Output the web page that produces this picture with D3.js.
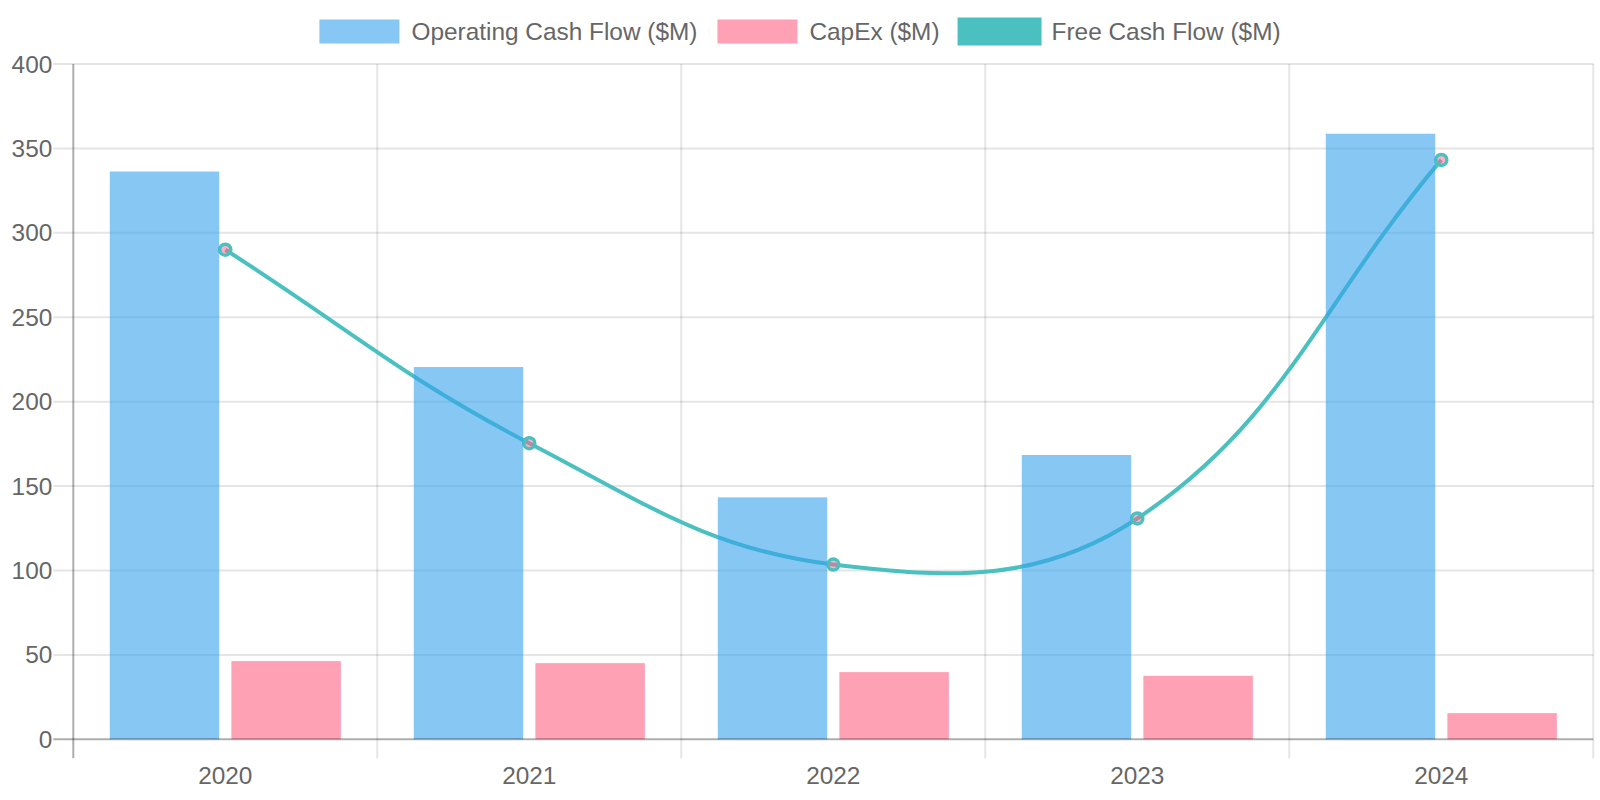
<!DOCTYPE html>
<html>
<head>
<meta charset="utf-8">
<script src="https://cdn.jsdelivr.net/npm/d3@7"></script>
<style>
  html, body { margin: 0; padding: 0; background: #ffffff; }
  svg { display: block; }
  text { font-family: "Liberation Sans", Arial, Helvetica, sans-serif; }
</style>
</head>
<body>
<svg id="chart" width="1600" height="800"></svg>
<script>
// ---- data ----
const years = ["2020", "2021", "2022", "2023", "2024"];
const operatingCashFlow = [336.3, 220.5, 143.3, 168.4, 358.7];
const capEx = [46.3, 45.1, 39.8, 37.6, 15.5];
const freeCashFlow = [290.0, 175.4, 103.5, 130.8, 343.2];
const seriesNames = ["Operating Cash Flow ($M)", "CapEx ($M)", "Free Cash Flow ($M)"];
const yTicks = [0, 50, 100, 150, 200, 250, 300, 350, 400];

// ---- layout ----
const W = 1600, H = 800;
const plotLeft = 73.3, plotRight = 1593.3, plotTop = 64, plotBottom = 739.3;
const fontSize = 24.4;
const svg = d3.select("#chart");

const x = d3.scaleBand().domain(years).range([plotLeft, plotRight]).paddingInner(0).paddingOuter(0);
const bw = x.bandwidth();
const x1 = d3.scaleBand().domain(["ocf", "capex"]).range([0.1 * bw, 0.9 * bw])
  .paddingInner(0.1).paddingOuter(0.05);
const y = d3.scaleLinear().domain([0, 400]).range([plotBottom, plotTop]);

const gridColor = "rgba(0,0,0,0.1)";
const axisColor = "rgba(0,0,0,0.32)";
const textColor = "#666666";

// horizontal gridlines (with tick extensions)
svg.append("g").selectAll("line").data(yTicks.filter(d => d !== 0)).join("line")
  .attr("x1", plotLeft - 20).attr("x2", plotRight)
  .attr("y1", d => y(d)).attr("y2", d => y(d))
  .attr("stroke", gridColor).attr("stroke-width", 2);

// vertical gridlines at category boundaries
const bounds = years.map(d => x(d)).concat([plotRight]);
svg.append("g").selectAll("line").data(bounds.slice(1)).join("line")
  .attr("x1", d => d).attr("x2", d => d)
  .attr("y1", plotTop).attr("y2", plotBottom + 19)
  .attr("stroke", gridColor).attr("stroke-width", 2);

// y labels
svg.append("g").selectAll("text").data(yTicks).join("text")
  .attr("x", plotLeft - 21).attr("y", d => y(d) + 8.6)
  .attr("text-anchor", "end").attr("font-size", fontSize).attr("fill", textColor)
  .text(d => d);

// x labels
svg.append("g").selectAll("text").data(years).join("text")
  .attr("x", d => x(d) + bw / 2).attr("y", 783.5)
  .attr("text-anchor", "middle").attr("font-size", fontSize).attr("fill", textColor)
  .text(d => d);

// ---- line (Chart.js-like spline, tension 0.4) ----
const pts = years.map((d, i) => ({ x: x(d) + bw / 2, y: y(freeCashFlow[i]) }));
const tension = 0.4;
pts.forEach((p, i) => {
  const prev = pts[i - 1] || p, next = pts[i + 1] || p;
  const d01 = Math.hypot(p.x - prev.x, p.y - prev.y);
  const d12 = Math.hypot(next.x - p.x, next.y - p.y);
  let s01 = d01 / (d01 + d12), s12 = d12 / (d01 + d12);
  if (isNaN(s01)) s01 = 0; if (isNaN(s12)) s12 = 0;
  const fa = tension * s01, fb = tension * s12;
  p.cpPrev = { x: p.x - fa * (next.x - prev.x), y: p.y - fa * (next.y - prev.y) };
  p.cpNext = { x: p.x + fb * (next.x - prev.x), y: p.y + fb * (next.y - prev.y) };
  [p.cpPrev, p.cpNext].forEach(c => {
    c.x = Math.max(plotLeft, Math.min(plotRight, c.x));
    c.y = Math.max(plotTop, Math.min(plotBottom, c.y));
  });
});
const path = d3.path();
path.moveTo(pts[0].x, pts[0].y);
for (let i = 1; i < pts.length; i++) {
  path.bezierCurveTo(pts[i - 1].cpNext.x, pts[i - 1].cpNext.y, pts[i].cpPrev.x, pts[i].cpPrev.y, pts[i].x, pts[i].y);
}
svg.append("path").attr("d", path.toString())
  .attr("fill", "none").attr("stroke", "rgb(75,192,192)").attr("stroke-width", 4);

svg.append("g").selectAll("circle").data(pts).join("circle")
  .attr("cx", d => d.x).attr("cy", d => d.y).attr("r", 5.5)
  .attr("fill", "rgba(255,99,132,0.5)").attr("stroke", "rgb(75,192,192)").attr("stroke-width", 3.5);

// ---- bars (drawn over line, like Chart.js dataset order) ----
svg.append("g").selectAll("rect").data(years).join("rect")
  .attr("x", d => x(d) + x1("capex")).attr("width", x1.bandwidth())
  .attr("y", (d, i) => y(capEx[i])).attr("height", (d, i) => y(0) - y(capEx[i]))
  .attr("fill", "rgba(255,99,132,0.6)");
svg.append("g").selectAll("rect").data(years).join("rect")
  .attr("x", d => x(d) + x1("ocf")).attr("width", x1.bandwidth())
  .attr("y", (d, i) => y(operatingCashFlow[i])).attr("height", (d, i) => y(0) - y(operatingCashFlow[i]))
  .attr("fill", "rgba(54,162,235,0.6)");

// axes lines
svg.append("line").attr("x1", plotLeft - 20).attr("x2", plotRight).attr("y1", y(0)).attr("y2", y(0))
  .attr("stroke", axisColor).attr("stroke-width", 2);
svg.append("line").attr("x1", plotLeft).attr("x2", plotLeft).attr("y1", plotTop).attr("y2", plotBottom + 19)
  .attr("stroke", axisColor).attr("stroke-width", 2);

// ---- legend ----
const legendItems = [
  { name: seriesNames[0], fill: "rgba(54,162,235,0.6)", stroke: null },
  { name: seriesNames[1], fill: "rgba(255,99,132,0.6)", stroke: null },
  { name: seriesNames[2], fill: "rgb(75,192,192)", stroke: "rgb(75,192,192)" }
];
const lg = svg.append("g");
const boxW = 80, boxH = 24, textGap = 12, itemGap = 20;
const widths = legendItems.map(it => {
  const t = lg.append("text").attr("font-size", fontSize).text(it.name);
  const w = t.node().getComputedTextLength();
  t.remove();
  return w;
});
const total = d3.sum(widths) + legendItems.length * (boxW + textGap) + itemGap * (legendItems.length - 1);
let cx = W / 2 - total / 2;
legendItems.forEach((it, i) => {
  const r = lg.append("rect").attr("x", cx).attr("y", 19.5).attr("width", boxW).attr("height", boxH)
    .attr("fill", it.fill);
  if (it.stroke) r.attr("stroke", it.stroke).attr("stroke-width", 4);
  lg.append("text").attr("x", cx + boxW + textGap).attr("y", 40.3)
    .attr("font-size", fontSize).attr("fill", textColor).text(it.name);
  cx += boxW + textGap + widths[i] + itemGap;
});
</script>
</body>
</html>
